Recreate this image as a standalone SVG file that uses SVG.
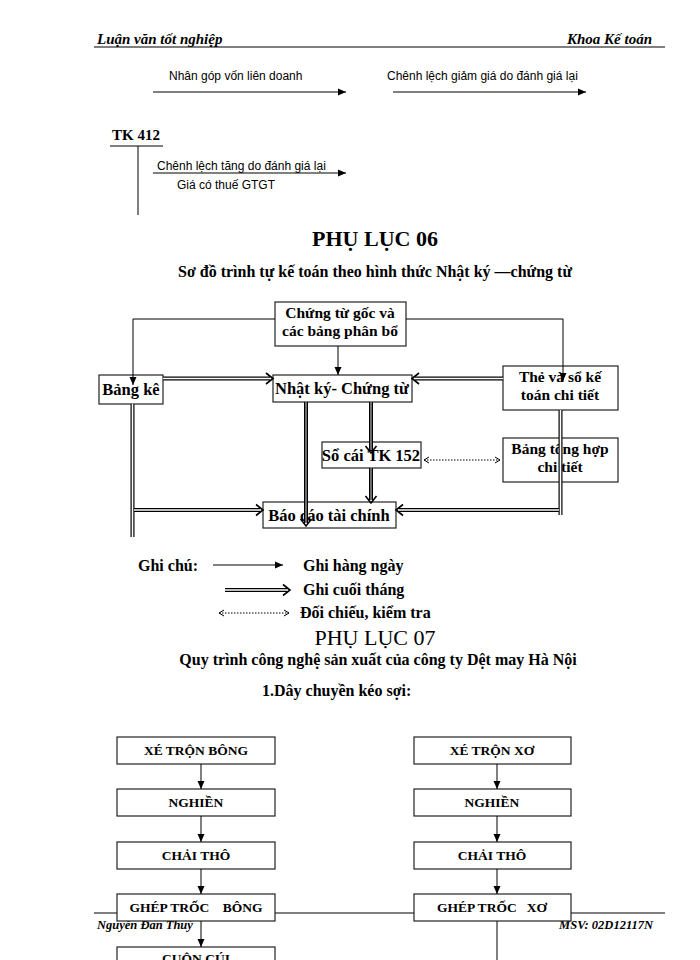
<svg xmlns="http://www.w3.org/2000/svg" width="700" height="960" viewBox="0 0 700 960">
<defs>
<marker id="tri" markerUnits="userSpaceOnUse" markerWidth="9" markerHeight="8" viewBox="0 0 9 8" refX="8" refY="4" orient="auto"><path d="M0,0.5 L8,4 L0,7.5 z" fill="#000"/></marker>
<marker id="open" markerUnits="userSpaceOnUse" markerWidth="14" markerHeight="14" viewBox="0 0 14 14" refX="7" refY="7" orient="auto"><path d="M3,1.5 L10,7 L3,12.5" fill="none" stroke="#000" stroke-width="1.6"/></marker>
<marker id="dot" markerUnits="userSpaceOnUse" markerWidth="10" markerHeight="10" viewBox="0 0 10 10" refX="8" refY="5" orient="auto-start-reverse"><path d="M3,2 L8,5 L3,8" fill="none" stroke="#000" stroke-width="1"/></marker>
</defs>
<style>
.box{fill:#fff;stroke:#222;stroke-width:1.2}
.t{font-family:"Liberation Serif",serif;font-weight:bold;font-size:16.5px;text-anchor:middle;fill:#000}
.t2{font-family:"Liberation Serif",serif;font-weight:bold;font-size:15.5px;text-anchor:middle;fill:#000}
.s{font-family:"Liberation Serif",serif;font-weight:bold;font-size:13.5px;text-anchor:middle;fill:#000}
.lbl{font-family:"Liberation Sans",Arial,sans-serif;font-size:12px;fill:#000}
.b{font-family:"Liberation Serif",serif;font-weight:bold;font-size:16px;fill:#000}
.hd{font-family:"Liberation Serif",serif;font-weight:bold;font-style:italic;font-size:15px;fill:#000}
.ft{font-family:"Liberation Serif",serif;font-weight:bold;font-style:italic;font-size:12.5px;fill:#000}
.single{stroke:#000;stroke-width:1;fill:none;marker-end:url(#tri)}
.line{stroke:#000;stroke-width:1;fill:none}
.dout{stroke:#000;stroke-width:4;fill:none}
.din{stroke:#fff;stroke-width:1.6;fill:none}
.dgray{stroke:#888;stroke-width:1.6;fill:none}
.dotted{stroke:#000;stroke-width:1;stroke-dasharray:1.5,1.5;fill:none;marker-start:url(#dot);marker-end:url(#dot)}
</style>
<rect width="700" height="960" fill="#fff"/>

<!-- header -->
<text class="hd" x="97" y="44">Luận văn tốt nghiệp</text>
<text class="hd" x="652" y="44" text-anchor="end">Khoa Kế toán</text>
<line x1="94" y1="47" x2="665" y2="47" stroke="#000" stroke-width="1.2"/>

<!-- top T-account section -->
<text class="lbl" x="169" y="80">Nhân góp vốn liên doanh</text>
<line class="single" x1="153" y1="92" x2="346" y2="92"/>
<text class="lbl" x="387" y="80">Chênh lệch giảm giá do đánh giá lại</text>
<line class="single" x1="393" y1="92" x2="586" y2="92"/>
<text class="b" x="112" y="140" style="font-size:15px">TK 412</text>
<line class="line" x1="110" y1="146" x2="163" y2="146"/>
<line class="line" x1="138" y1="146" x2="138" y2="215"/>
<text class="lbl" x="157" y="170">Chênh lệch tăng do đánh giá lại</text>
<line class="single" x1="153" y1="173" x2="346" y2="173"/>
<text class="lbl" x="177" y="189">Giá có thuế GTGT</text>

<!-- headings -->
<text x="375" y="246" font-family="Liberation Serif, serif" font-weight="bold" font-size="22" text-anchor="middle">PHỤ LỤC 06</text>
<text class="b" x="375" y="277" text-anchor="middle">Sơ đồ trình tự kế toán theo hình thức Nhật ký —chứng từ</text>

<!-- diagram 1 nodes -->
<g id="n-ctg"><rect class="box" x="275" y="302" width="131" height="44"/><text class="t2" x="340" y="318">Chứng từ gốc và</text><text class="t2" x="340" y="336">các bảng phân bổ</text></g>
<g id="n-bk"><rect class="box" x="99" y="375" width="64" height="29"/><text class="t" x="131" y="395">Bảng kê</text></g>
<g id="n-nk"><rect class="box" x="273" y="375" width="139" height="27"/><text class="t" x="342" y="394">Nhật ký- Chứng từ</text></g>
<g id="n-the"><rect class="box" x="503" y="366" width="115" height="44"/><text class="t2" x="560" y="382">Thẻ và sổ kế</text><text class="t2" x="560" y="400">toán chi tiết</text></g>
<g id="n-sc"><rect class="box" x="322" y="442" width="99" height="26"/><text class="t" x="371" y="461">Sổ cái TK 152</text></g>
<g id="n-bth"><rect class="box" x="503" y="438" width="115" height="44"/><text class="t2" x="560" y="454">Bảng tổng hợp</text><text class="t2" x="560" y="472">chi tiết</text></g>
<g id="n-bc"><rect class="box" x="263" y="502" width="133" height="26"/><text class="t" x="329" y="521">Báo cáo tài chính</text></g>

<!-- diagram 1 connectors -->
<g id="connectors1">
<path class="single" d="M275,319 H133 V385"/>
<path class="single" d="M406,319 H563 V381"/>
<path class="single" d="M338,346 V375"/>
<path class="dout" d="M163,378.5 H270" marker-end="url(#open)"/><path class="din" d="M163,378.5 H270"/>
<path class="dout" d="M503,378.5 H415" marker-end="url(#open)"/><path class="din" d="M503,378.5 H415"/>
<path class="dout" d="M132.5,404 V537"/><path class="din" d="M132.5,404 V537"/>
<path class="dout" d="M134,510 H260" marker-end="url(#open)"/><path class="din" d="M134,510 H260"/>
<path class="dout" d="M560.5,410 V515"/><path class="din" d="M560.5,410 V515"/>
<path class="dout" d="M559,510 H399" marker-end="url(#open)"/><path class="din" d="M559,510 H399"/>
<path class="dout" d="M306,402 V523" marker-end="url(#open)"/><path class="dgray" d="M306,402 V523"/>
<path class="dout" d="M371,402 V450" marker-end="url(#open)"/><path class="dgray" d="M371,402 V450"/>
<path class="dout" d="M371,468 V500" marker-end="url(#open)"/><path class="dgray" d="M371,468 V500"/>
<path class="dotted" d="M424,460 H500"/>
</g>

<!-- legend -->
<text class="b" x="138" y="571">Ghi chú:</text>
<line class="single" x1="213" y1="565" x2="283" y2="565"/>
<text class="b" x="303" y="571">Ghi hàng ngày</text>
<path class="dout" d="M225,590 H287" marker-end="url(#open)"/><path class="din" d="M225,590 H287"/>
<text class="b" x="303" y="595">Ghi cuối tháng</text>
<path class="dotted" d="M219,613 H289"/>
<text class="b" x="300" y="618">Đối chiếu, kiểm tra</text>

<text x="375" y="645" font-family="Liberation Serif, serif" font-size="22" text-anchor="middle">PHỤ LỤC 07</text>
<text class="b" x="378" y="665" text-anchor="middle">Quy trình công nghệ sản xuất của công ty Dệt may Hà Nội</text>
<text class="b" x="262" y="696">1.Dây chuyền kéo sợi:</text>

<!-- footer -->
<line x1="94" y1="913" x2="665" y2="913" stroke="#000" stroke-width="1.2"/>
<text class="ft" x="97" y="929">Nguyễn Đan Thuỳ</text>
<text class="ft" x="653" y="929" text-anchor="end">MSV: 02D12117N</text>

<!-- diagram 2 nodes -->
<g id="n-xtb"><rect class="box" x="117" y="737" width="158" height="27"/><text class="s" x="196" y="755">XÉ TRỘN BÔNG</text></g>
<g id="n-ng1"><rect class="box" x="117" y="789" width="158" height="27"/><text class="s" x="196" y="807">NGHIỀN</text></g>
<g id="n-ct1"><rect class="box" x="117" y="842" width="158" height="27"/><text class="s" x="196" y="860">CHẢI THÔ</text></g>
<g id="n-gt1"><rect class="box" x="117" y="894" width="158" height="27"/><text class="s" x="196" y="912" xml:space="preserve">GHÉP TRỐC    BÔNG</text></g>
<g id="n-cc1"><rect class="box" x="117" y="947" width="158" height="27"/><text class="s" x="196" y="963">CUỘN CÚI</text></g>
<g id="n-xtx"><rect class="box" x="414" y="737" width="157" height="27"/><text class="s" x="492" y="755">XÉ TRỘN XƠ</text></g>
<g id="n-ng2"><rect class="box" x="414" y="789" width="157" height="27"/><text class="s" x="492" y="807">NGHIỀN</text></g>
<g id="n-ct2"><rect class="box" x="414" y="842" width="157" height="27"/><text class="s" x="492" y="860">CHẢI THÔ</text></g>
<g id="n-gt2"><rect class="box" x="414" y="894" width="157" height="27"/><text class="s" x="492" y="912" xml:space="preserve">GHÉP TRỐC   XƠ</text></g>

<g id="connectors2">
<line class="single" x1="201" y1="764" x2="201" y2="789"/>
<line class="single" x1="201" y1="816" x2="201" y2="842"/>
<line class="single" x1="201" y1="869" x2="201" y2="894"/>
<line class="single" x1="201" y1="921" x2="201" y2="947"/>
<line class="single" x1="497" y1="764" x2="497" y2="789"/>
<line class="single" x1="497" y1="816" x2="497" y2="842"/>
<line class="single" x1="497" y1="869" x2="497" y2="894"/>
<line class="line" x1="497" y1="921" x2="497" y2="960"/>
</g>
</svg>
